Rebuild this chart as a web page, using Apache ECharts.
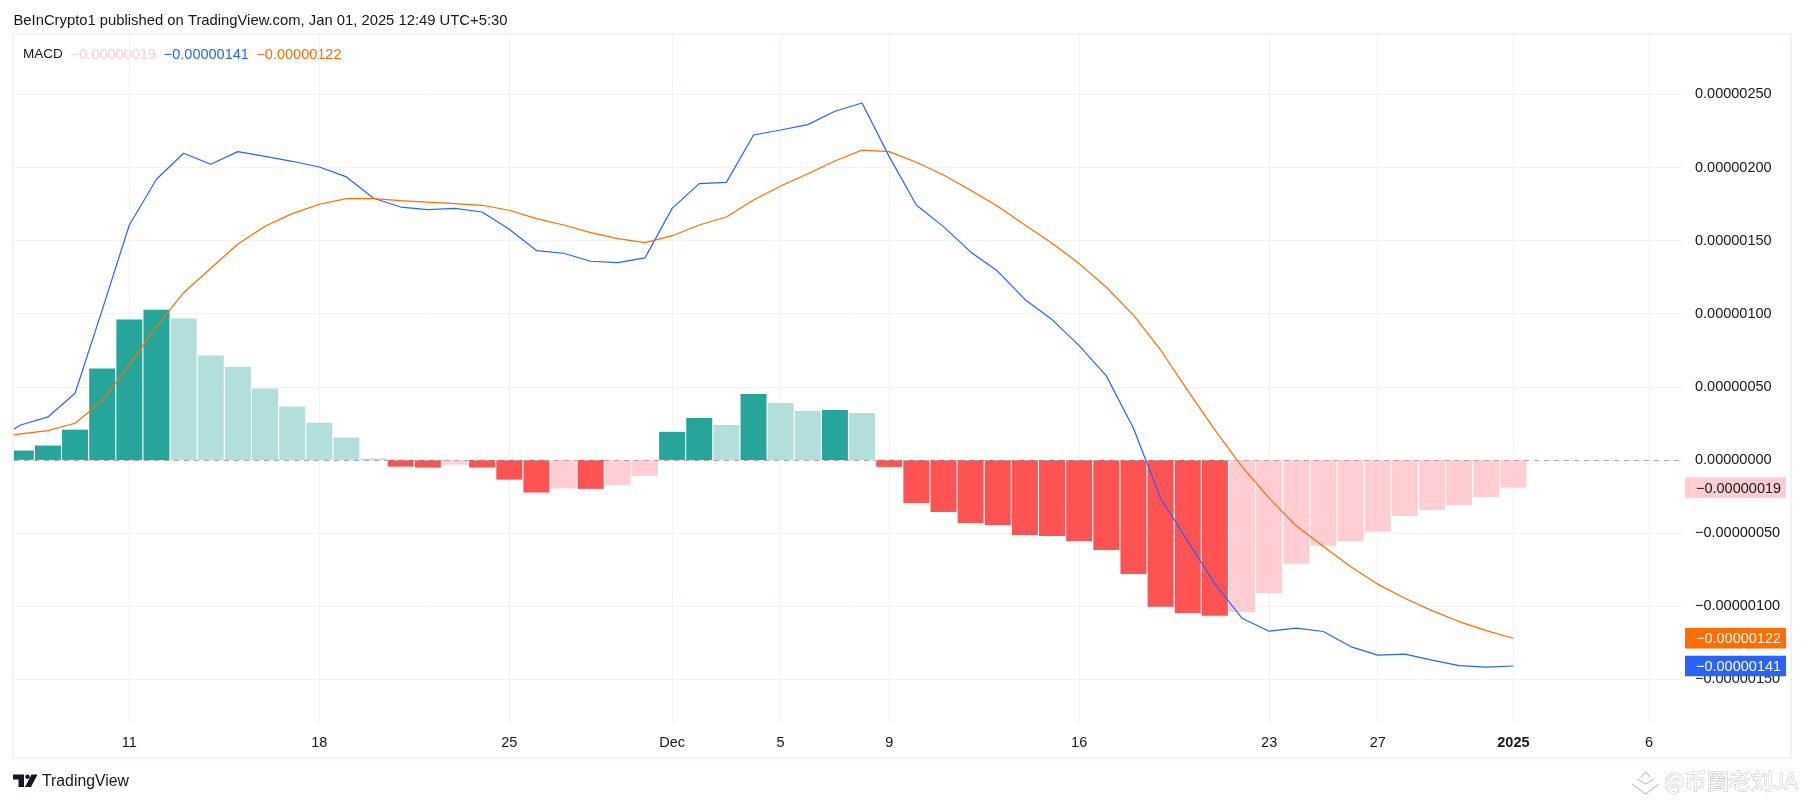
<!DOCTYPE html>
<html>
<head>
<meta charset="utf-8">
<title>MACD</title>
<script src="https://cdn.jsdelivr.net/npm/echarts@6/dist/echarts.min.js"></script>
<style>
  html, body { margin: 0; padding: 0; background: #fff; }
  #chart { width: 1804px; height: 803px; }
</style>
</head>
<body>
<div id="chart"></div>
<script>
// all values are in units of 0.00000001, day 0 is Nov 7 2024
const barValues = [
  6.4, 9.8, 20.7, 62.5, 96, 102.8, 96.7, 71.4, 63.8, 48.8, 36.5, 25.5, 15.3, 0.9,
  -4.6, -5.2, -3.2, -5.2, -13.5, -22.3, -19.5, -19.8, -17.1, -10.9,
  19.2, 28.7, 23.9, 45.1, 39, 33.5, 34.2, 32.1,
  -4.8, -29.4, -35.6, -43.1, -44.5, -51.3, -52, -55.4, -61.6, -78, -100.5, -104.7, -106.7,
  -104, -91, -71.1, -58.8, -55.4, -49.2, -38.3, -34.2, -30.8, -25.3, -19
];
// line values start one day earlier (day -1), off the left edge
const macdValues = [
  13, 23.9, 29.4, 45.6, 102.6, 160.7, 192, 209.8, 202.3, 210.9, 207.7, 204.3, 200.4, 193.6,
  179, 173, 171.2, 172.1, 169.6, 157.8, 143.2, 141.4, 135.9, 135, 138.2,
  172.1, 189, 189.9, 222.3, 225.7, 229.4, 238.5, 244.2, 207.5, 174.4, 159.6, 142.3, 129,
  109.8, 96, 78.2, 57.5, 21.7, -26.2, -55.6, -84.8, -108.3, -117.2, -115.1, -117.4,
  -127.7, -133.6, -132.9, -137, -140.7, -141.8, -141
];
const signalValues = [
  15.3, 17.8, 20, 25.1, 40.4, 65, 91.2, 114.4, 131.1, 147.7, 159.8, 168.5, 174.9, 178.7,
  178.7, 177.4, 176.3, 175.3, 174.2, 170.8, 165.1, 160.7, 155.5, 151.4, 148.7,
  153.4, 160.7, 166.2, 177.8, 187.4, 195.8, 204.5, 212, 210.9, 203.6, 194.9, 184.5, 173.5,
  160.7, 148.2, 134.3, 118.1, 99, 75.2, 47.4, 20.5, -4.6, -26.2, -45.1, -59.3,
  -73, -85, -94.6, -103.1, -110.6, -116.8, -122
];
const xTickDays = [4, 11, 18, 24, 28, 32, 39, 46, 50, 55, 60];
const xTickLabels = ['11', '18', '25', 'Dec', '5', '9', '16', '23', '27', '2025', '6'];
const yTicks = [-150, -100, -50, 0, 50, 100, 150, 200, 250];

const xMin = -0.25, xMax = 61.25;
const yMin = -180, yMax = 290.7;
const textColor = '#131722';
const fontFamily = '"Liberation Sans", sans-serif';

function priceLabel(v) {
  const s = (Math.abs(v) * 1e-8).toFixed(8);
  return (v < 0 ? '\u2212' : '') + s;
}

function barColor(params) {
  const v = barValues[params.dataIndex];
  const prev = params.dataIndex > 0 ? barValues[params.dataIndex - 1] : -Infinity;
  if (v >= 0) {
    return v >= prev ? '#26a69a' : '#b2dfdb';
  }
  return v < prev ? '#ff5252' : '#ffcdd2';
}

const last = barValues.length - 1;
const tagData = [
  [xMax, barValues[last], '#ffcdd2', textColor],
  [xMax, signalValues[signalValues.length - 1], '#ff6d00', '#ffffff'],
  [xMax, macdValues[macdValues.length - 1], '#2962ff', '#ffffff']
];

function renderTag(params, api) {
  const y = api.coord([xMax, api.value(1)])[1];
  return {
    type: 'group',
    children: [{
      type: 'rect',
      shape: { x: 1685, y: y - 10.3, width: 101, height: 20.6 },
      style: { fill: tagData[params.dataIndex][2] }
    }, {
      type: 'text',
      style: {
        x: 1696, y: y + 1,
        text: priceLabel(api.value(1)),
        fill: tagData[params.dataIndex][3],
        font: '14.5px ' + fontFamily,
        textVerticalAlign: 'middle'
      }
    }]
  };
}

const chart = echarts.init(document.getElementById('chart'));

chart.setOption({
  animation: false,
  backgroundColor: '#ffffff',
  grid: { left: 14, right: 121, top: 35, bottom: 80 },
  xAxis: {
    type: 'value',
    min: xMin,
    max: xMax,
    axisLine: { show: false },
    axisTick: { show: false, customValues: xTickDays },
    splitLine: { show: true, lineStyle: { color: '#f0f3fa', width: 1 } },
    axisLabel: {
      customValues: xTickDays,
      margin: 12,
      color: textColor,
      fontFamily: fontFamily,
      fontSize: 14.5,
      formatter: function (v) {
        const label = xTickLabels[xTickDays.indexOf(v)];
        return label === '2025' ? '{b|' + label + '}' : label;
      },
      rich: { b: { fontWeight: 'bold', fontFamily: fontFamily, fontSize: 14.5, color: textColor } }
    }
  },
  yAxis: {
    type: 'value',
    position: 'right',
    min: yMin,
    max: yMax,
    axisLine: { show: false },
    axisTick: { show: false, customValues: yTicks },
    splitLine: { show: true, lineStyle: { color: '#f0f3fa', width: 1 } },
    axisLabel: {
      customValues: yTicks,
      margin: 12,
      padding: [2, 0, 0, 0],
      color: textColor,
      fontFamily: fontFamily,
      fontSize: 14.5,
      formatter: priceLabel
    }
  },
  series: [{
    name: 'Histogram',
    type: 'bar',
    barWidth: 26,
    data: barValues.map(function (v, i) { return [i, v]; }),
    itemStyle: { color: barColor },
    markLine: {
      silent: true,
      symbol: 'none',
      label: { show: false },
      lineStyle: { color: '#a6a8ad', type: [5, 5], width: 1 },
      data: [{ yAxis: 0 }]
    }
  }, {
    name: 'MACD',
    type: 'line',
    symbol: 'none',
    lineStyle: { color: '#2962ff', width: 1.2 },
    data: macdValues.map(function (v, i) { return [i - 1, v]; })
  }, {
    name: 'Signal',
    type: 'line',
    symbol: 'none',
    lineStyle: { color: '#ff6d00', width: 1.2 },
    data: signalValues.map(function (v, i) { return [i - 1, v]; })
  }, {
    name: 'Tags',
    type: 'custom',
    renderItem: renderTag,
    encode: { x: 0, y: 1 },
    z: 5,
    data: tagData.map(function (t) { return [t[0], t[1]]; })
  }],
  graphic: [
    // bars on a value axis are not clipped at the grid edge, so cover the first one's overhang
    { type: 'rect', silent: true, z: 10, shape: { x: 0, y: 35, width: 13, height: 688 }, style: { fill: '#ffffff' } },
    // chart frame
    { type: 'rect', silent: true, z: 11, shape: { x: 13, y: 34, width: 1778, height: 724 },
      style: { fill: 'none', stroke: '#f0f3fa', lineWidth: 2 } },
    // header and legend
    { type: 'text', x: 13.5, y: 20.5, style: { text: 'BeInCrypto1 published on TradingView.com, Jan 01, 2025 12:49 UTC+5:30',
      font: '14.8px ' + fontFamily, fill: textColor, textVerticalAlign: 'middle' } },
    { type: 'text', x: 23, y: 54.5, style: { text: 'MACD', font: '13.5px ' + fontFamily, fill: textColor, textVerticalAlign: 'middle' } },
    { type: 'text', x: 70.8, y: 54.5, style: { text: priceLabel(barValues[last]), font: '14.5px ' + fontFamily, fill: '#ffcdd2', textVerticalAlign: 'middle' } },
    { type: 'text', x: 163.8, y: 54.5, style: { text: priceLabel(macdValues[macdValues.length - 1]), font: '14.5px ' + fontFamily, fill: '#2962ff', textVerticalAlign: 'middle' } },
    { type: 'text', x: 256.4, y: 54.5, style: { text: priceLabel(signalValues[signalValues.length - 1]), font: '14.5px ' + fontFamily, fill: '#ff6d00', textVerticalAlign: 'middle' } },
    // TradingView logo
    { type: 'polygon', shape: { points: [[13, 774.5], [24, 774.5], [24, 787], [18.5, 787], [18.5, 779.5], [13, 779.5]] }, style: { fill: '#131722' } },
    { type: 'circle', shape: { cx: 27.5, cy: 776.8, r: 2.3 }, style: { fill: '#131722' } },
    { type: 'polygon', shape: { points: [[31.5, 774.5], [37.5, 774.5], [31, 787], [25, 787]] }, style: { fill: '#131722' } },
    { type: 'text', x: 42, y: 781.5, style: { text: 'TradingView', font: '15.8px ' + fontFamily, fill: '#131722', textVerticalAlign: 'middle' } },
    // watermark
    { type: 'polyline', shape: { points: [[1632, 784], [1645.6, 794], [1659, 784]] }, style: { fill: 'none', stroke: '#c8c8c8', lineWidth: 1.2 } },
    { type: 'polyline', shape: { points: [[1637, 779], [1645.6, 784], [1654, 779]] }, style: { fill: 'none', stroke: '#c8c8c8', lineWidth: 1.2 } },
    { type: 'polyline', shape: { points: [[1641, 777], [1645.6, 772], [1650, 777]] }, style: { fill: 'none', stroke: '#c8c8c8', lineWidth: 1.2 } },
    { type: 'text', x: 1664, y: 781, style: { text: '@\u5e01\u5708\u8001\u5218JA', font: '22px "Noto Sans CJK SC", sans-serif',
      fill: '#ffffff', stroke: '#c0c0c0', lineWidth: 1, textVerticalAlign: 'middle' } }
  ]
});
</script>
</body>
</html>
